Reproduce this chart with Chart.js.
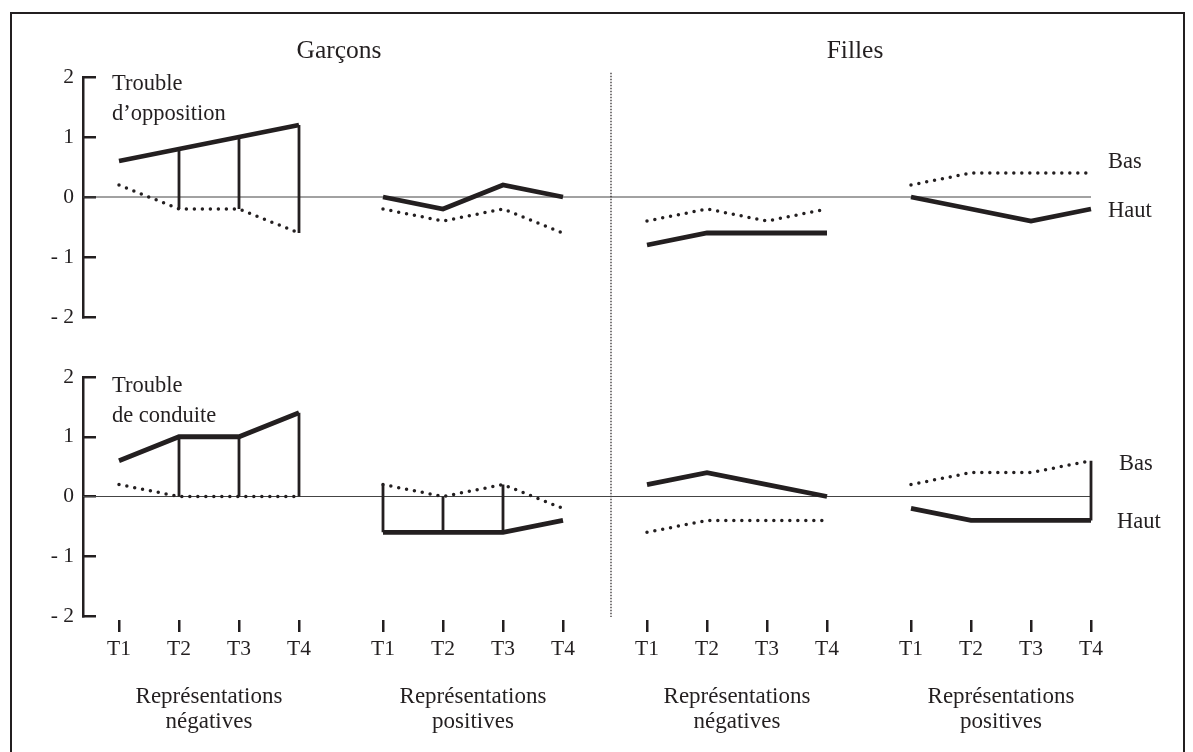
<!DOCTYPE html>
<html lang="fr">
<head>
<meta charset="utf-8">
<script src="https://cdn.jsdelivr.net/npm/chart.js@4.4.1/dist/chart.umd.min.js"></script>
<style>
  html, body { margin: 0; padding: 0; background: #fff; }
  body { width: 1193px; height: 752px; position: relative; overflow: hidden;
         font-family: "Liberation Serif", "DejaVu Serif", serif; color: #231f20; }
  #frame { position: absolute; left: 10px; top: 12px; width: 1171px; height: 760px;
           border: 2px solid #231f20; }
  .box { position: absolute; left: 0; top: 0; width: 1193px; height: 752px; }
  .lbl { position: absolute; white-space: nowrap; line-height: 1; }
  .c { transform: translate(-50%, -50%); text-align: center; }
  .l { transform: translate(0, -50%); }
  .title { font-size: 25.5px; }
  .panel { font-size: 22.5px; line-height: 30px; }
  .grp { font-size: 23px; line-height: 25px; }
  .leg { font-size: 22.5px; }
</style>
</head>
<body>
<div id="frame"></div>
<div class="box"><canvas id="oppChart"></canvas></div>
<div class="box"><canvas id="condChart"></canvas></div>

<div class="lbl c title" style="left:339px; top:50px;">Garçons</div>
<div class="lbl c title" style="left:855px; top:50px;">Filles</div>

<div class="lbl panel" style="left:112px; top:68px;">Trouble<br>d’opposition</div>
<div class="lbl panel" style="left:112px; top:370px;">Trouble<br>de conduite</div>

<div class="lbl l leg" style="left:1108px; top:161px;">Bas</div>
<div class="lbl l leg" style="left:1108px; top:210px;">Haut</div>
<div class="lbl l leg" style="left:1119px; top:463px;">Bas</div>
<div class="lbl l leg" style="left:1117px; top:521px;">Haut</div>

<div id="groups"></div>

<script>
// ── Data ──────────────────────────────────

const timeLabels = ['T1', 'T2', 'T3', 'T4'];
const groupLabels = [
  ['Représentations', 'négatives'],
  ['Représentations', 'positives'],
  ['Représentations', 'négatives'],
  ['Représentations', 'positives']
];

// Trouble d'opposition: Garçons nég., Garçons pos., Filles nég., Filles pos.
const oppHaut = [0.6, 0.8, 1.0, 1.2,   0, -0.2, 0.2, 0,   -0.8, -0.6, -0.6, -0.6,   0, -0.2, -0.4, -0.2];
const oppBas  = [0.2, -0.2, -0.2, -0.6,   -0.2, -0.4, -0.2, -0.6,   -0.4, -0.2, -0.4, -0.2,   0.2, 0.4, 0.4, 0.4];
const oppLinks = [1, 2, 3];

// Trouble de conduite
const condHaut = [0.6, 1.0, 1.0, 1.4,   -0.6, -0.6, -0.6, -0.4,   0.2, 0.4, 0.2, 0,   -0.2, -0.4, -0.4, -0.4];
const condBas  = [0.2, 0, 0, 0,   0.2, 0, 0.2, -0.2,   -0.6, -0.4, -0.4, -0.4,   0.2, 0.4, 0.4, 0.6];
const condLinks = [1, 2, 3, 4, 5, 6, 15];

// ── Layout helpers ────────────────────────

const INK = '#231f20';
const xMin = -0.6, xMax = 17.4;
const groupStep = 4.4;
const dividerX = 8.2;
const xPos = [];
for (let g = 0; g < 4; g++) {
  for (let t = 0; t < 4; t++) xPos.push(g * groupStep + t);
}
const lastX = xPos[xPos.length - 1];

function seriesPoints(values) {
  const pts = [];
  values.forEach((v, i) => {
    pts.push({ x: xPos[i], y: v });
    if (i % 4 === 3) pts.push({ x: xPos[i] + 0.5, y: null });
  });
  return pts;
}

function linkPoints(haut, bas, idx) {
  const pts = [];
  idx.forEach(i => {
    pts.push({ x: xPos[i], y: haut[i] }, { x: xPos[i], y: bas[i] }, { x: xPos[i] + 0.01, y: null });
  });
  return pts;
}

const lineBase = { pointRadius: 0, pointHoverRadius: 0, tension: 0, fill: false, spanGaps: false };

function buildDatasets(haut, bas, links, withDivider) {
  const sets = [
    Object.assign({}, lineBase, {
      label: 'Haut', data: seriesPoints(haut),
      borderColor: INK, borderWidth: 4.8, borderJoinStyle: 'miter'
    }),
    Object.assign({}, lineBase, {
      label: 'Bas', data: seriesPoints(bas),
      borderColor: INK, borderWidth: 3.5, borderDash: [0, 8], borderCapStyle: 'round'
    }),
    Object.assign({}, lineBase, {
      label: 'links', data: linkPoints(haut, bas, links),
      borderColor: INK, borderWidth: 2.8
    })
  ];
  if (withDivider) {
    sets.push(Object.assign({}, lineBase, {
      label: 'divider', data: [{ x: dividerX, y: 2.07 }, { x: dividerX, y: -7.0 }],
      borderColor: INK, borderWidth: 1.2, borderDash: [1.5, 1.5], clip: false
    }));
  }
  sets.push(Object.assign({}, lineBase, {
    label: 'zero', data: [{ x: xMin, y: 0 }, { x: lastX, y: 0 }],
    borderColor: '#444', borderWidth: 1
  }));
  return sets;
}

const tickFont = { family: '"Liberation Serif", serif', size: 21.5 };

function yScale() {
  return {
    min: -2, max: 2,
    afterFit: s => { s.width = 72; },
    ticks: {
      stepSize: 1, padding: 22, color: INK, font: tickFont,
      callback: v => (v < 0 ? '- ' + Math.abs(v) : String(v))
    },
    grid: { drawOnChartArea: false, tickLength: -13, color: INK, lineWidth: 2.5 },
    border: { display: true, color: INK, width: 2.5 }
  };
}

const baseOptions = {
  responsive: true,
  maintainAspectRatio: false,
  animation: false,
  events: [],
  plugins: { legend: { display: false }, tooltip: { enabled: false } }
};

// ── Top panel: Trouble d'opposition ───────

new Chart(document.getElementById('oppChart'), {
  type: 'line',
  data: { datasets: buildDatasets(oppHaut, oppBas, oppLinks, true) },
  options: Object.assign({}, baseOptions, {
    layout: { padding: { left: 11, right: 30, top: 77, bottom: 752 - 317 } },
    scales: {
      x: { type: 'linear', min: xMin, max: xMax, display: false },
      y: yScale()
    }
  })
});

// ── Bottom panel: Trouble de conduite ─────

new Chart(document.getElementById('condChart'), {
  type: 'line',
  data: { datasets: buildDatasets(condHaut, condBas, condLinks, false) },
  options: Object.assign({}, baseOptions, {
    layout: { padding: { left: 11, right: 30, top: 377, bottom: 76 } },
    scales: {
      x: {
        type: 'linear', min: xMin, max: xMax, position: 'bottom',
        afterBuildTicks: s => { s.ticks = xPos.map(v => ({ value: v })); },
        afterFit: s => { s.height = 60; },
        ticks: {
          autoSkip: false, maxRotation: 0, padding: 4, color: INK, font: tickFont,
          callback: (v, i) => timeLabels[i % 4]
        },
        grid: { drawOnChartArea: false, tickLength: 16, color: INK, lineWidth: 2.5, tickBorderDash: [0, 4, 12, 0] },
        border: { display: false }
      },
      y: yScale()
    }
  })
});

// ── Group captions under the axis ─────────

const groupsEl = document.getElementById('groups');
groupLabels.forEach((lines, g) => {
  const centre = 119 + (g * groupStep + 1.5) * 60;
  const div = document.createElement('div');
  div.className = 'lbl grp';
  div.style.left = centre + 'px';
  div.style.top = '683px';
  div.style.transform = 'translate(-50%, 0)';
  div.style.textAlign = 'center';
  div.innerHTML = lines.join('<br>');
  groupsEl.appendChild(div);
});
</script>
</body>
</html>
